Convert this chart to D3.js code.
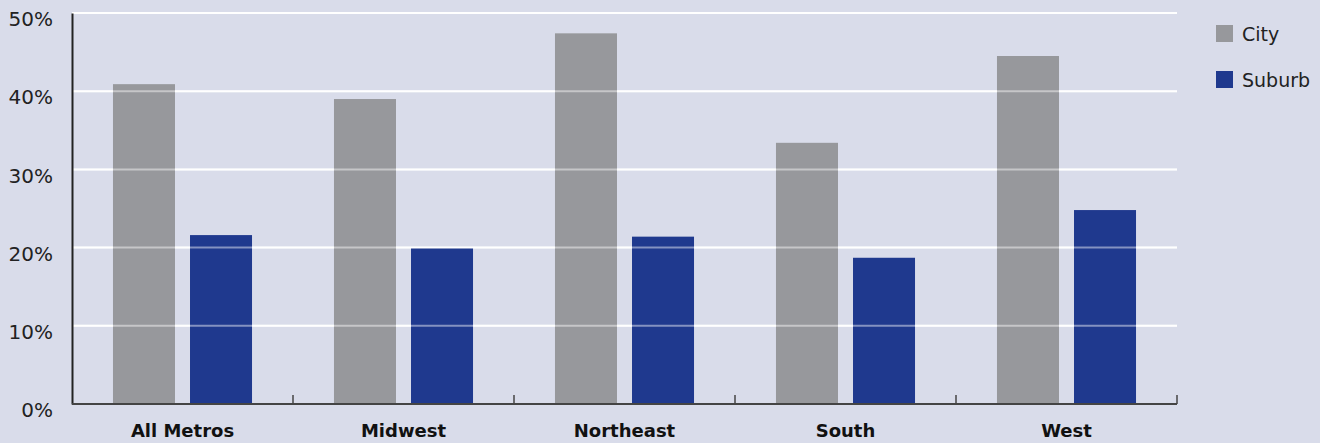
<!DOCTYPE html>
<html>
<head>
<meta charset="utf-8">
<script src="https://cdn.jsdelivr.net/npm/d3@7"></script>
<style>
  html, body { margin: 0; padding: 0; background: #d9dcea; }
  svg { display: block; }
</style>
</head>
<body>
<div id="chart"></div>
<script>
const regions = ["All Metros", "Midwest", "Northeast", "South", "West"];
const series = ["City", "Suburb"];
const cityValues = [40.9, 39.0, 47.4, 33.4, 44.5];
const suburbValues = [21.6, 19.9, 21.4, 18.7, 24.8];
const yTicks = [0, 10, 20, 30, 40, 50];

const colors = { City: "#97989c", Suburb: "#1f398e" };

function renderChart(selector) {
  const width = 1320,
    height = 443;
  const margin = { top: 13, left: 72, right: 143, bottom: 39 };

  const svg = d3.select(selector).append("svg").attr("width", width).attr("height", height);

  svg.append("rect").attr("width", width).attr("height", height).attr("fill", "#d9dcea");

  const x0 = d3.scaleBand().domain(regions).range([margin.left, width - margin.right]);
  const x1 = d3.scaleBand().domain(series).range([0, x0.bandwidth()]).paddingInner(0.195).paddingOuter(0.532);
  const y = d3.scaleLinear().domain([0, 50]).range([height - margin.bottom, margin.top]);

  const rows = regions.map((r, i) => ({ region: r, City: cityValues[i], Suburb: suburbValues[i] }));

  // gridlines under bars
  const grid = svg.append("g");
  grid
    .selectAll("line")
    .data(yTicks.filter((d) => d > 0))
    .join("line")
    .attr("x1", margin.left)
    .attr("x2", width - margin.right)
    .attr("y1", (d) => y(d))
    .attr("y2", (d) => y(d))
    .attr("stroke", "#ffffff")
    .attr("stroke-width", 2);

  // bars
  svg
    .append("g")
    .selectAll("g")
    .data(rows)
    .join("g")
    .attr("transform", (d) => `translate(${x0(d.region)},0)`)
    .selectAll("rect")
    .data((d) => series.map((s) => ({ key: s, value: d[s] })))
    .join("rect")
    .attr("x", (d) => x1(d.key))
    .attr("width", x1.bandwidth())
    .attr("y", (d) => y(d.value))
    .attr("height", (d) => y(0) - y(d.value))
    .attr("fill", (d) => colors[d.key]);

  // faint gridlines over bars
  svg
    .append("g")
    .selectAll("line")
    .data(yTicks.filter((d) => d > 0))
    .join("line")
    .attr("x1", margin.left)
    .attr("x2", width - margin.right)
    .attr("y1", (d) => y(d))
    .attr("y2", (d) => y(d))
    .attr("stroke", "#ffffff")
    .attr("stroke-opacity", 0.45)
    .attr("stroke-width", 2);

  // y axis
  const yAxis = svg
    .append("g")
    .attr("transform", `translate(${margin.left},0)`)
    .call(d3.axisLeft(y).tickValues(yTicks).tickSize(0).tickPadding(19).tickFormat((d) => d + "%"));
  yAxis.select(".domain").attr("stroke", "#222").attr("stroke-width", 2);
  yAxis
    .selectAll("text")
    .attr("font-family", "DejaVu Sans, sans-serif")
    .attr("font-size", 20)
    .attr("fill", "#222")
    .attr("dy", "0.68em")
    .attr("transform", "translate(0,-1)");

  // x axis
  const boundaries = regions.map((r) => x0(r)).concat([width - margin.right]);
  const xg = svg.append("g");
  xg.append("line")
    .attr("x1", margin.left)
    .attr("x2", width - margin.right)
    .attr("y1", y(0))
    .attr("y2", y(0))
    .attr("stroke", "#444")
    .attr("stroke-width", 2);
  xg.selectAll("line.tick")
    .data(boundaries.slice(1))
    .join("line")
    .attr("class", "tick")
    .attr("x1", (d) => d)
    .attr("x2", (d) => d)
    .attr("y1", y(0))
    .attr("y2", y(0) - 9)
    .attr("stroke", "#444")
    .attr("stroke-width", 1.5);
  xg.selectAll("text")
    .data(regions)
    .join("text")
    .attr("x", (d) => x0(d) + x0.bandwidth() / 2)
    .attr("y", 437)
    .attr("text-anchor", "middle")
    .attr("font-family", "DejaVu Sans, sans-serif")
    .attr("font-weight", "bold")
    .attr("font-size", 18)
    .attr("fill", "#111")
    .text((d) => d);

  // legend
  const legend = svg.append("g").attr("transform", "translate(1216, 25)");
  const items = legend
    .selectAll("g")
    .data(series)
    .join("g")
    .attr("transform", (d, i) => `translate(0, ${i * 46})`);
  items.append("rect").attr("width", 17).attr("height", 17).attr("fill", (d) => colors[d]);
  items
    .append("text")
    .attr("x", 26)
    .attr("y", 16)
    .attr("font-family", "DejaVu Sans, sans-serif")
    .attr("font-size", 19)
    .attr("fill", "#222")
    .text((d) => d);
}

renderChart("#chart");
</script>
</body>
</html>
